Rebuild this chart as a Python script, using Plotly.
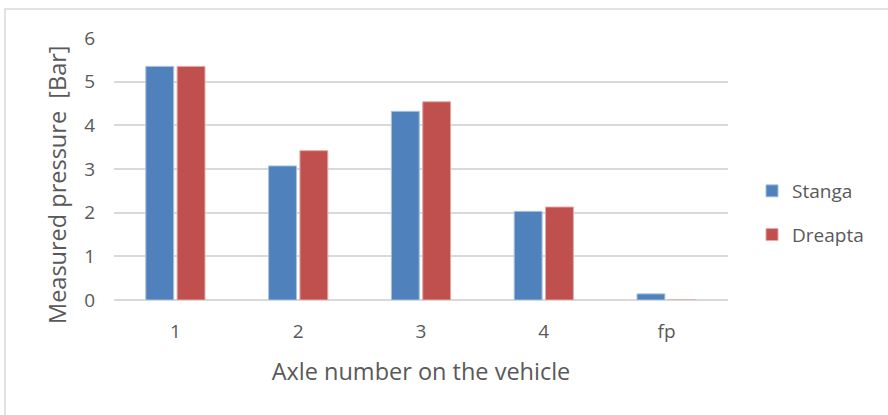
import plotly.graph_objects as go

# Axle categories and measured pressure per side
axles = ["1", "2", "3", "4", "fp"]
stanga = [5.35, 3.07, 4.32, 2.03, 0.14]
dreapta = [5.35, 3.42, 4.54, 2.13, 0.0]
y_ticks = [0, 1, 2, 3, 4, 5, 6]

FONT = "Open Sans, Liberation Sans, sans-serif"
TEXT = "#595959"

fig = go.Figure()
fig.add_trace(go.Bar(
    x=axles, y=stanga, name="Stanga", legendgroup="s",
    marker=dict(color="#4F81BD", line=dict(color="#A7C0DE", width=1)),
))
fig.add_trace(go.Bar(
    x=axles, y=dreapta, name="Dreapta", legendgroup="d",
    marker=dict(color="#C0504D", line=dict(color="#E3A9A7", width=1)),
))

W, H = 888, 415
L, R, T, B = 114, 160, 38, 115
pw, ph = W - L - R, H - T - B


def px_x(p):
    return (p - L) / pw


def px_y(p):
    return (H - B - p) / ph


fig.update_layout(
    width=W, height=H,
    margin=dict(l=L, r=R, t=T, b=B),
    paper_bgcolor="white", plot_bgcolor="white",
    barmode="group", bargap=0.49, bargroupgap=0.11,
    font=dict(family=FONT, color=TEXT, size=19),
    xaxis=dict(
        title=dict(text="Axle number on the vehicle", font=dict(size=23.5, color=TEXT), standoff=20),
        showgrid=False, showline=False, ticks="", ticklabelstandoff=18,
        tickfont=dict(size=19, color=TEXT),
    ),
    yaxis=dict(
        range=[0, 6], tickvals=y_ticks, showgrid=True, gridcolor="#D9D9D9", gridwidth=1.5,
        zeroline=True, zerolinecolor="#D9D9D9", zerolinewidth=1.5,
        showline=False, ticks="", ticklabelstandoff=18,
        tickfont=dict(size=19, color=TEXT),
    ),
    legend=dict(
        x=px_x(752), y=px_y(213), xanchor="left", yanchor="middle",
        traceorder="grouped", tracegroupgap=16,
        font=dict(size=19, color=TEXT), bgcolor="rgba(0,0,0,0)",
    ),
    # vertical axis title, set a little below the plot's vertical centre
    annotations=[dict(
        text="Measured pressure  [Bar]", textangle=-90,
        xref="paper", yref="paper", x=px_x(57), y=px_y(185),
        xanchor="center", yanchor="middle", showarrow=False,
        font=dict(size=23.5, color=TEXT),
    )],
    shapes=[dict(
        type="rect", xref="paper", yref="paper",
        x0=px_x(5), x1=px_x(892), y0=px_y(420), y1=px_y(9),
        line=dict(color="#D9D9D9", width=1.5), fillcolor="rgba(0,0,0,0)", layer="below",
    )],
)

fig.write_html("out.html")
